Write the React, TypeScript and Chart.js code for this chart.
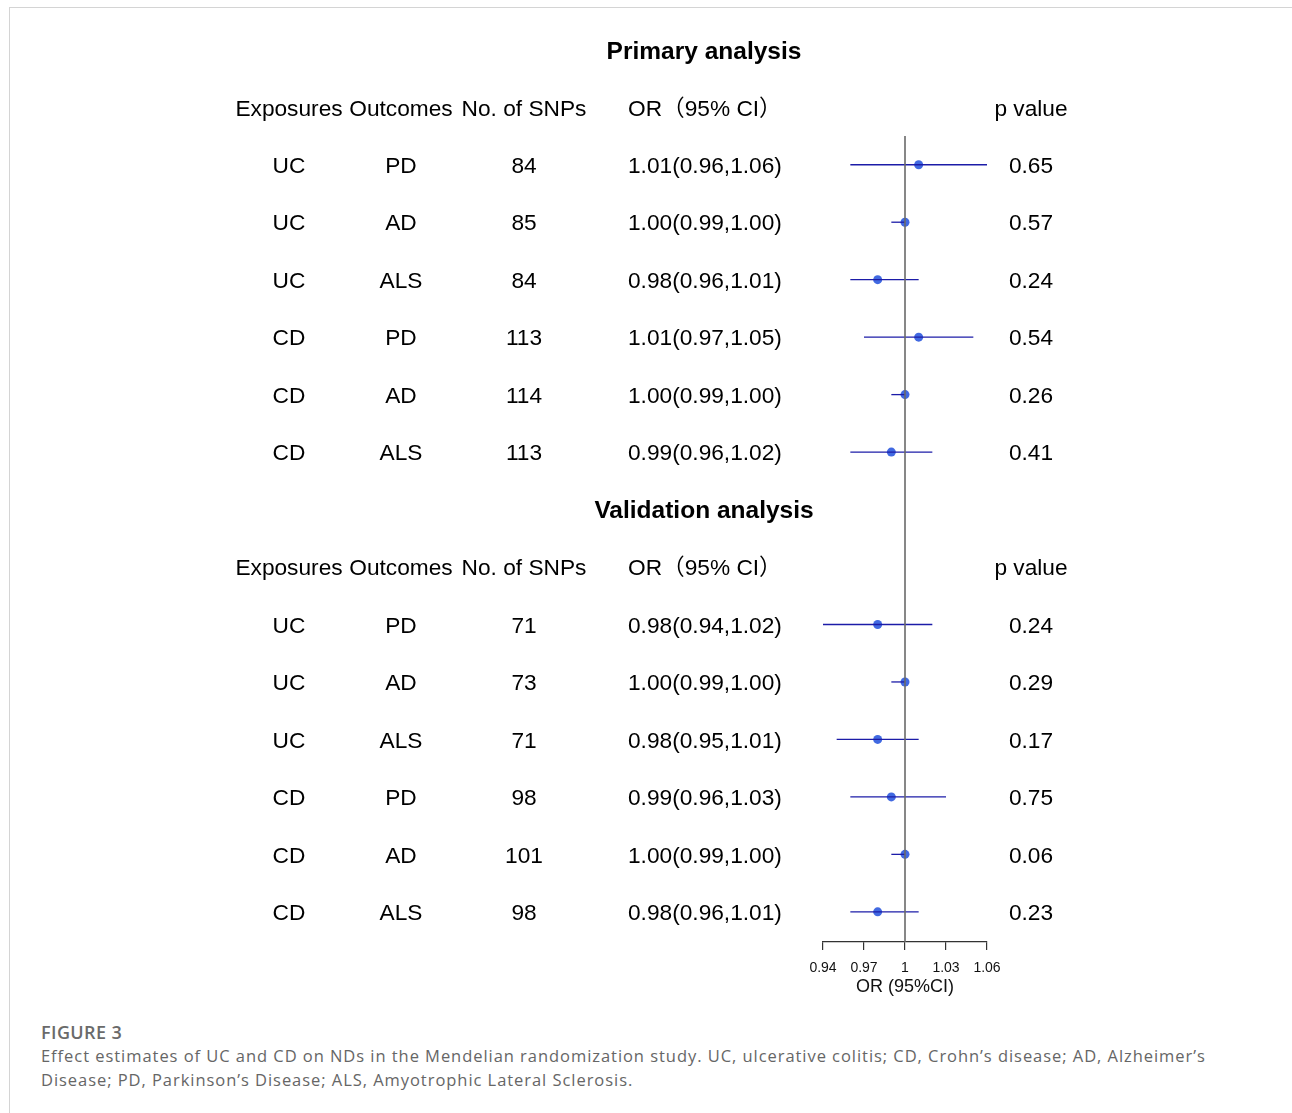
import React, { useEffect, useRef } from "react";
import { Chart, registerables } from "chart.js";

Chart.register(...registerables);

// ---------- data ----------
const sectionTitles = ["Primary analysis", "Validation analysis"];
const headerLabels = ["Exposures", "Outcomes", "No. of SNPs", "OR（95% CI）", "p value"];

const primaryExposures = ["UC", "UC", "UC", "CD", "CD", "CD"];
const primaryOutcomes = ["PD", "AD", "ALS", "PD", "AD", "ALS"];
const primarySnps = [84, 85, 84, 113, 114, 113];
const primaryOR = [1.01, 1.0, 0.98, 1.01, 1.0, 0.99];
const primaryLower = [0.96, 0.99, 0.96, 0.97, 0.99, 0.96];
const primaryUpper = [1.06, 1.0, 1.01, 1.05, 1.0, 1.02];
const primaryP = ["0.65", "0.57", "0.24", "0.54", "0.26", "0.41"];

const validationExposures = ["UC", "UC", "UC", "CD", "CD", "CD"];
const validationOutcomes = ["PD", "AD", "ALS", "PD", "AD", "ALS"];
const validationSnps = [71, 73, 71, 98, 101, 98];
const validationOR = [0.98, 1.0, 0.98, 0.99, 1.0, 0.98];
const validationLower = [0.94, 0.99, 0.95, 0.96, 0.99, 0.96];
const validationUpper = [1.02, 1.0, 1.01, 1.03, 1.0, 1.01];
const validationP = ["0.24", "0.29", "0.17", "0.75", "0.06", "0.23"];

const xTicks = [0.94, 0.97, 1, 1.03, 1.06];
const xTickLabels = ["0.94", "0.97", "1", "1.03", "1.06"];
const xTitle = "OR (95%CI)";
const nullValue = 1;

// row slots: 0 title, 1 header, 2..7 rows, 8 title, 9 header, 10..15 rows
const primaryTitleSlot = 0;
const primaryHeaderSlot = 1;
const primaryFirstRow = 2;
const validationTitleSlot = 8;
const validationHeaderSlot = 9;
const validationFirstRow = 10;

const fmt = (v: number) => v.toFixed(2);

type Row = { exp: string; out: string; snp: number; or: number; lo: number; hi: number; p: string; slot: number };
const rows: Row[] = [
  ...primaryExposures.map((e, i) => ({
    exp: e, out: primaryOutcomes[i], snp: primarySnps[i], or: primaryOR[i],
    lo: primaryLower[i], hi: primaryUpper[i], p: primaryP[i], slot: primaryFirstRow + i,
  })),
  ...validationExposures.map((e, i) => ({
    exp: e, out: validationOutcomes[i], snp: validationSnps[i], or: validationOR[i],
    lo: validationLower[i], hi: validationUpper[i], p: validationP[i], slot: validationFirstRow + i,
  })),
];

// ---------- layout ----------
const W = 1292;
const H = 1010;
const Y_MIN = 1.5;
const Y_MAX = 15.525;
const TEXT_DY = 2;
const COL = { exp: 289, out: 401, snp: 524, orLeft: 628, p: 1031, title: 704 };
const TEXT_FONT = "22.7px 'Liberation Sans', Arial, 'Noto Sans CJK SC', sans-serif";
const TITLE_FONT = "bold 24.5px 'Liberation Sans', Arial, sans-serif";

const tablePlugin = {
  id: "tablePlugin",
  afterDraw(chart: any) {
    const ctx = chart.ctx as CanvasRenderingContext2D;
    const y = chart.scales.y;
    ctx.save();
    ctx.fillStyle = "#000";
    ctx.textBaseline = "middle";
    const put = (t: string, x: number, slot: number, align: CanvasTextAlign) => {
      ctx.textAlign = align;
      ctx.fillText(t, x, y.getPixelForValue(slot) + TEXT_DY);
    };
    ctx.font = TITLE_FONT;
    put(sectionTitles[0], COL.title, primaryTitleSlot, "center");
    put(sectionTitles[1], COL.title, validationTitleSlot, "center");
    ctx.font = TEXT_FONT;
    for (const hs of [primaryHeaderSlot, validationHeaderSlot]) {
      put(headerLabels[0], COL.exp, hs, "center");
      put(headerLabels[1], COL.out, hs, "center");
      put(headerLabels[2], COL.snp, hs, "center");
      put(headerLabels[3], COL.orLeft, hs, "left");
      put(headerLabels[4], COL.p, hs, "center");
    }
    for (const r of rows) {
      put(r.exp, COL.exp, r.slot, "center");
      put(r.out, COL.out, r.slot, "center");
      put(String(r.snp), COL.snp, r.slot, "center");
      put(`${fmt(r.or)}(${fmt(r.lo)},${fmt(r.hi)})`, COL.orLeft, r.slot, "left");
      put(r.p, COL.p, r.slot, "center");
    }
    ctx.restore();
  },
};

export default function App() {
  const ref = useRef<HTMLCanvasElement | null>(null);

  useEffect(() => {
    if (!ref.current) return;
    const datasets: any[] = [
      {
        type: "line",
        data: [
          { x: nullValue, y: Y_MIN },
          { x: nullValue, y: Y_MAX },
        ],
        borderColor: "#6a6a6a",
        borderWidth: 1.6,
        pointRadius: 0,
      },
      ...rows.map((r) => ({
        type: "line",
        data: [
          { x: r.lo, y: r.slot },
          { x: r.hi, y: r.slot },
        ],
        borderColor: "#1c1ca8",
        borderWidth: 1.3,
        pointRadius: 0,
      })),
      {
        type: "scatter",
        data: rows.map((r) => ({ x: r.or, y: r.slot })),
        backgroundColor: "#4169E1",
        borderColor: "#4169E1",
        pointRadius: 4.5,
        borderWidth: 0,
      },
    ];
    const chart = new Chart(ref.current, {
      type: "scatter",
      data: { datasets },
      plugins: [tablePlugin],
      options: {
        animation: false,
        responsive: false,
        devicePixelRatio: 1,
        layout: { padding: { left: 823, right: W - 987, top: 136, bottom: 0 } },
        plugins: { legend: { display: false }, tooltip: { enabled: false } },
        scales: {
          x: {
            type: "linear",
            min: 0.94,
            max: 1.06,
            position: "bottom",
            afterBuildTicks: (s: any) => {
              s.ticks = xTicks.map((v) => ({ value: v }));
            },
            afterFit: (s: any) => {
              s.height = H - 942;
            },
            ticks: {
              autoSkip: false,
              maxRotation: 0,
              padding: 10,
              color: "#111",
              font: { family: "'Liberation Sans', Arial, sans-serif", size: 14 },
              callback: (v: any) => {
                const i = xTicks.findIndex((t) => Math.abs(t - Number(v)) < 1e-9);
                return i >= 0 ? xTickLabels[i] : "";
              },
            },
            grid: {
              display: true,
              drawOnChartArea: false,
              drawTicks: true,
              tickLength: 8,
              color: "#333",
              lineWidth: 1.2,
            },
            border: { display: true, color: "#333", width: 1.2 },
            title: {
              display: true,
              text: xTitle,
              color: "#111",
              font: { family: "'Liberation Sans', Arial, sans-serif", size: 18 },
              padding: { top: 0, bottom: 12 },
            },
          },
          y: {
            type: "linear",
            display: false,
            reverse: true,
            min: Y_MIN,
            max: Y_MAX,
          },
        },
      },
    } as any);
    return () => chart.destroy();
  }, []);

  return (
    <div>
      <div
        style={{
          position: "absolute",
          left: 9,
          top: 7,
          width: W - 9,
          height: 1113 - 7,
          borderTop: "1px solid #d4d4d4",
          borderLeft: "1px solid #d4d4d4",
          boxSizing: "border-box",
        }}
      />
      <canvas
        ref={ref}
        width={W}
        height={H}
        style={{ position: "absolute", left: 0, top: 0, width: W, height: H }}
      />
      <div
        style={{
          position: "absolute",
          left: 41,
          top: 1020,
          fontFamily: "'Open Sans', 'Noto Sans', sans-serif",
          color: "#666",
          whiteSpace: "nowrap",
        }}
      >
        <div style={{ fontSize: 18, fontWeight: 600, lineHeight: "24px", color: "#6a6a6a", letterSpacing: 0.4 }}>
          FIGURE 3
        </div>
        <div style={{ fontSize: 16.5, lineHeight: "24px", fontWeight: 400, letterSpacing: 0.95 }}>
          Effect estimates of UC and CD on NDs in the Mendelian randomization study. UC, ulcerative colitis; CD, Crohn’s disease; AD, Alzheimer’s
        </div>
        <div style={{ fontSize: 16.5, lineHeight: "24px", fontWeight: 400, letterSpacing: 0.95 }}>
          Disease; PD, Parkinson’s Disease; ALS, Amyotrophic Lateral Sclerosis.
        </div>
      </div>
    </div>
  );
}
